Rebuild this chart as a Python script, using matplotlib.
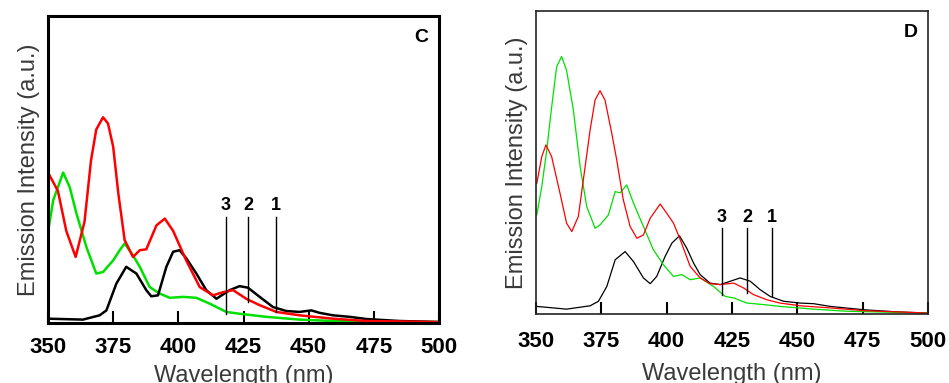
import matplotlib
matplotlib.use("Agg")
import matplotlib.pyplot as plt

# ---------------- Panel C data ----------------
c_red_x = [350, 353.8, 357, 360.6, 364, 366.5, 368.5, 371.1, 373, 375, 377, 379.4, 382.6, 385.2, 387.7,
           391.6, 394.8, 398, 403, 408.2, 413.3, 417, 421, 426, 431.2, 437.6, 446.5, 459.3, 472, 500]
c_red_y = [0.49, 0.43, 0.30, 0.215, 0.33, 0.53, 0.63, 0.67, 0.65, 0.574, 0.42, 0.27, 0.215, 0.237, 0.24,
           0.318, 0.34, 0.30, 0.204, 0.117, 0.09, 0.10, 0.107, 0.079, 0.058, 0.036, 0.025, 0.014, 0.0065, 0.003]

c_green_x = [350, 352, 355.8, 358.3, 360.9, 364.7, 368.5, 371.1, 375, 377.5, 379.4, 382.6, 385.2, 389,
             392.8, 396.7, 401.8, 406.9, 412, 418.4, 423.5, 433.8, 446.5, 459.3, 500]
c_green_y = [0.297, 0.40, 0.49, 0.443, 0.357, 0.248, 0.161, 0.166, 0.204, 0.237, 0.259, 0.22, 0.183, 0.117,
             0.096, 0.082, 0.085, 0.082, 0.063, 0.036, 0.03, 0.02, 0.011, 0.0065, 0.003]

c_black_x = [350, 363.4, 369.8, 372.4, 376.2, 380, 383.9, 387.7, 389.6, 392.2, 395.4, 398, 400.5, 403.1,
             406.9, 410.7, 414.6, 419.7, 423.5, 426.7, 431.2, 436.3, 441.4, 446.5, 451, 454.2, 459.3,
             465.7, 472, 484.8, 500]
c_black_y = [0.014, 0.011, 0.025, 0.041, 0.128, 0.183, 0.161, 0.107, 0.087, 0.09, 0.183, 0.232, 0.237, 0.21,
             0.161, 0.107, 0.079, 0.107, 0.12, 0.115, 0.085, 0.052, 0.039, 0.036, 0.041, 0.033, 0.025,
             0.02, 0.013, 0.0065, 0.003]

c_marker_x = [437.6, 426.7, 418.2]
c_marker_bottom = [0.036, 0.068, 0.030]
c_marker_labels = ["1", "2", "3"]

# ---------------- Panel D data ----------------
d_green_x = [350.3, 352.2, 354.1, 356, 357.9, 359.8, 361.7, 364.3, 366.9, 369.4, 372.6, 374.5, 377.7,
             380.3, 382.2, 384.7, 387.3, 391.1, 394.9, 398.8, 402.6, 405.8, 409, 412.8, 417.9, 422.4,
             425.6, 430.7, 437.1, 443.4, 456.2, 469, 500]
d_green_y = [0.327, 0.42, 0.54, 0.684, 0.816, 0.85, 0.804, 0.673, 0.486, 0.355, 0.283, 0.294, 0.327,
             0.404, 0.40, 0.426, 0.366, 0.289, 0.212, 0.162, 0.124, 0.13, 0.113, 0.119, 0.091, 0.058,
             0.053, 0.036, 0.031, 0.025, 0.016, 0.009, 0.003]

d_red_x = [350.3, 352.2, 353.8, 356, 359.2, 361.7, 363.7, 366.2, 368.1, 370.7, 372.6, 374.5, 376.4, 379,
           380.9, 383.4, 386, 388.6, 391.1, 393.7, 397.5, 400, 402.6, 405.2, 409, 412.8, 416.6, 420.5,
           425.6, 429.4, 433.2, 438.3, 443.4, 451.1, 462.6, 475.4, 500]
d_red_y = [0.431, 0.519, 0.558, 0.519, 0.398, 0.30, 0.272, 0.322, 0.442, 0.607, 0.706, 0.737, 0.706, 0.596,
           0.508, 0.377, 0.289, 0.25, 0.261, 0.316, 0.363, 0.333, 0.30, 0.245, 0.157, 0.119, 0.10, 0.097,
           0.102, 0.086, 0.064, 0.047, 0.036, 0.027, 0.02, 0.011, 0.003]

d_black_x = [350.3, 361.7, 370.7, 373.9, 377.1, 380.3, 384.1, 387.3, 391.1, 393.7, 396.2, 399.4, 402,
             404.9, 407.7, 410.3, 412.8, 416.6, 420.5, 424.3, 428.1, 432, 435.8, 439.6, 444.7, 451.1,
             456.2, 462.6, 475.4, 488.1, 500]
d_black_y = [0.025, 0.016, 0.027, 0.042, 0.091, 0.179, 0.206, 0.173, 0.119, 0.10, 0.124, 0.19, 0.234,
             0.258, 0.217, 0.168, 0.13, 0.102, 0.097, 0.108, 0.119, 0.108, 0.08, 0.058, 0.042, 0.036,
             0.034, 0.025, 0.014, 0.007, 0.003]

d_marker_x = [440.3, 430.7, 421.0]
d_marker_bottom = [0.058, 0.069, 0.064]
d_marker_labels = ["1", "2", "3"]

xticks = [350, 375, 400, 425, 450, 475, 500]
xtick_labels = ["350", "375", "400", "425", "450", "475", "500"]

GREEN = "#00e000"
LABEL_COLOR = "#3a3a3a"

fig = plt.figure(figsize=(9.49, 3.83), dpi=100)


def panel(ax, series, lw, spine_lw, spine_color, mx, mb, mlabels, mtop, letter, tpad, lpad):
    for x, y, c in series:
        ax.plot(x, y, color=c, lw=lw)
    for x0, yb, lab in zip(mx, mb, mlabels):
        ax.plot([x0, x0], [yb, mtop], color="black", lw=1.0)
        ax.text(x0, mtop + 0.008, lab, ha="center", va="bottom", fontsize=13,
                fontweight="bold", family="Liberation Sans")
    ax.set_xlim(350, 500)
    ax.set_ylim(0, 1)
    ax.set_yticks([])
    ax.set_xticks(xticks)
    ax.set_xticklabels(xtick_labels, fontsize=16, fontweight="bold", family="Liberation Sans")
    ax.tick_params(axis="x", direction="in", length=9, width=1.5, pad=tpad)
    for s in ax.spines.values():
        s.set_linewidth(spine_lw)
        s.set_color(spine_color)
    ax.set_xlabel("Wavelength (nm)", fontsize=17, family="Liberation Sans", color=LABEL_COLOR,
                  labelpad=lpad)
    ax.set_ylabel("Emission Intensity (a.u.)", fontsize=17, family="Liberation Sans",
                  color=LABEL_COLOR, labelpad=6)
    ax.text(0.955, 0.93, letter, transform=ax.transAxes, ha="center", va="center",
            fontsize=14, fontweight="bold", family="Liberation Sans")


axC = fig.add_axes([0.0506, 0.1567, 0.412, 0.8016])
panel(axC, [(c_green_x, c_green_y, GREEN), (c_black_x, c_black_y, "black"), (c_red_x, c_red_y, "red")],
      lw=1.8, spine_lw=2.2, spine_color="black",
      mx=c_marker_x, mb=c_marker_bottom, mlabels=c_marker_labels, mtop=0.346, letter="C",
      tpad=10, lpad=5)

axD = fig.add_axes([0.5648, 0.1802, 0.4131, 0.791])
panel(axD, [(d_black_x, d_black_y, "black"), (d_green_x, d_green_y, GREEN), (d_red_x, d_red_y, "red")],
      lw=0.9, spine_lw=1.2, spine_color="#222222",
      mx=d_marker_x, mb=d_marker_bottom, mlabels=d_marker_labels, mtop=0.283, letter="D",
      tpad=12, lpad=8)

fig.savefig("out.png", dpi=100)
